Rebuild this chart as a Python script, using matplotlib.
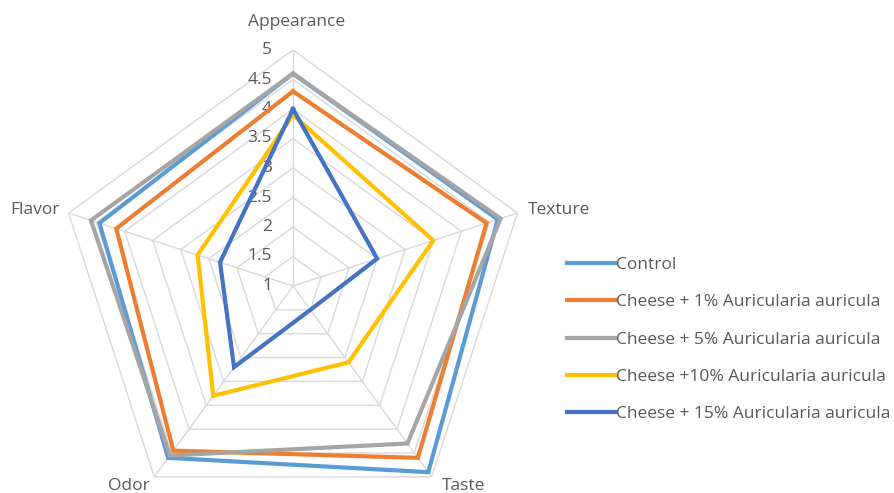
import numpy as np
import matplotlib
matplotlib.use("Agg")
import matplotlib.pyplot as plt
from matplotlib.lines import Line2D

categories = ["Appearance", "Texture", "Taste", "Odor", "Flavor"]
series_names = [
    "Control",
    "Cheese + 1% Auricularia auricula",
    "Cheese + 5% Auricularia auricula",
    "Cheese +10% Auricularia auricula",
    "Cheese + 15% Auricularia auricula",
]
control = [4.6, 4.65, 4.9, 4.6, 4.45]
cheese_1 = [4.3, 4.45, 4.6, 4.45, 4.15]
cheese_5 = [4.6, 4.7, 4.3, 4.55, 4.6]
cheese_10 = [3.9, 3.5, 2.6, 3.3, 2.7]
cheese_15 = [4.0, 2.5, 1.5, 2.7, 2.3]
tick_values = [1, 1.5, 2, 2.5, 3, 3.5, 4, 4.5, 5]
tick_labels = ["1", "1.5", "2", "2.5", "3", "3.5", "4", "4.5", "5"]

colors = ["#5B9BD5", "#ED7D31", "#A5A5A5", "#FFC000", "#4472C4"]
text_color = "#595959"
plt.rcParams["font.family"] = ["Open Sans", "DejaVu Sans"]
FS = 12.5

W, H = 895, 493
fig = plt.figure(figsize=(W / 100, H / 100), dpi=100)
cx, cy, R = 293, 286, 236
ax = fig.add_axes([(cx - R) / W, (H - cy - R) / H, 2 * R / W, 2 * R / H], polar=True)
ax.set_theta_offset(np.pi / 2)
ax.set_theta_direction(-1)
ax.set_ylim(1, 5)
ax.grid(False)
ax.spines["polar"].set_visible(False)
ax.set_xticks([])
ax.set_yticks([])
ax.patch.set_alpha(0)

n = len(categories)
angles = np.linspace(0, 2 * np.pi, n, endpoint=False)
closed = np.concatenate([angles, angles[:1]])

# pentagon gridlines
for v in tick_values[1:]:
    ax.plot(closed, [v] * (n + 1), color="#d9d9d9", lw=1.0, zorder=1)
for a in angles:
    ax.plot([a, a], [1, 5], color="#d9d9d9", lw=1.0, zorder=1)

all_series = [control, cheese_1, cheese_5, cheese_10, cheese_15]
for vals, c, name in zip(all_series, colors, series_names):
    ax.plot(closed, list(vals) + [vals[0]], color=c, lw=3.0, zorder=3,
            solid_joinstyle="miter", label=name)

# radial tick labels
for v, lab in zip(tick_values, tick_labels):
    ax.annotate(lab, xy=(0, v), xytext=(-21, 0), textcoords="offset pixels",
                ha="right", va="center", fontsize=FS, color=text_color, zorder=2,
                annotation_clip=False)

# category labels
offsets = [(4, 28, "center"), (10, 3, "left"), (32, -9, "center"),
           (-25, -9, "center"), (-9, 3, "right")]
for a, cat, (dx, dy, ha) in zip(angles, categories, offsets):
    ax.annotate(cat, xy=(a, 5), xytext=(dx, dy), textcoords="offset pixels",
                ha=ha, va="center", fontsize=FS, color=text_color,
                annotation_clip=False)

handles = [Line2D([0], [0], color=c, lw=3.0) for c in colors]
leg = fig.legend(handles, series_names, loc="upper left",
                 bbox_to_anchor=(567 / W, (H - 257) / H), frameon=False,
                 fontsize=FS, handlelength=2.76, handletextpad=0.05,
                 labelspacing=1.22, borderpad=0, borderaxespad=0)
for t in leg.get_texts():
    t.set_color(text_color)

fig.savefig("out.png", dpi=100)
